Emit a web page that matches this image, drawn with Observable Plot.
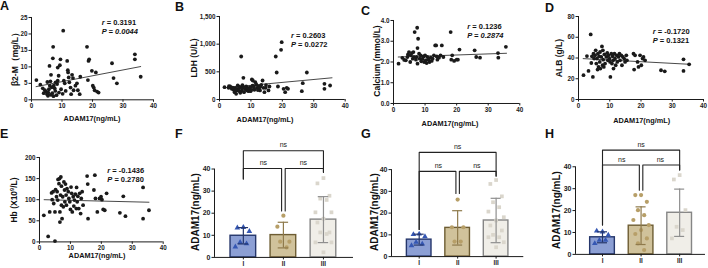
<!DOCTYPE html>
<html><head><meta charset="utf-8">
<script src="https://cdn.jsdelivr.net/npm/d3@7"></script>
<script src="https://cdn.jsdelivr.net/npm/@observablehq/plot@0.6"></script>
<style>
body{margin:0;background:#fff;font-family:"Liberation Sans",Arial,sans-serif;color:#111}
#fig{position:relative;width:708px;height:268px;overflow:hidden;background:#fff}
.letter{position:absolute;font-weight:bold;font-size:12.5px;line-height:1}
.xl{position:absolute;font-weight:bold;font-size:7.3px;white-space:nowrap;transform:translate(-50%,-50%)}
.yl{position:absolute;font-weight:bold;font-size:8.5px;white-space:nowrap;transform:translate(-50%,-50%) rotate(-90deg)}
.yl.big{font-size:10px}
.st{position:absolute;font-weight:bold;font-size:7.5px;line-height:9px;white-space:nowrap}
sup{font-size:5.5px;vertical-align:3px}
</style></head>
<body><div id="fig"></div>
<script>
// ---------- Data ----------
const xTicks = [0, 10, 20, 30, 40];

// A: beta2-M vs ADAM17
const aX = [1.6,2.9,3.7,4.4,4.8,5.1,5.4,5.7,6.0,6.2,6.4,5.9,7.0,7.1,7.3,7.6,7.8,8.2,8.4,8.6,8.9,8.6,9.3,9.5,9.7,10.4,10.6,10.9,11.2,11.7,11.9,12.0,12.2,12.4,12.8,13.0,13.3,13.6,13.8,14.4,14.9,15.2,15.8,16.0,18.2,18.5,18.7,18.9,19.8,20.1,20.4,20.7,21.1,21.5,22.0,26.4,26.9,28.0,33.9,33.9,35.8,5.5,6.3,6.8,7.2,6.6,5.2,4.0,7.9,9.0,10.2];
const aY = [6.0,4.6,3.5,2.9,2.5,1.7,1.2,3.2,4.3,5.6,7.6,10.3,12.6,16.1,4.3,3.5,2.7,1.4,4.8,5.8,7.3,9.8,10.5,12.3,3.2,21.0,5.8,5.0,2.7,11.8,9.0,8.3,6.8,5.3,3.7,1.7,7.6,6.6,2.9,4.3,5.0,2.9,1.7,7.0,16.1,6.0,11.8,12.3,8.8,4.3,3.7,2.9,8.3,2.5,2.2,11.1,6.6,5.0,13.8,12.3,7.0,2.2,1.5,2.0,1.1,3.8,5.4,2.0,5.3,2.2,1.8];
const aFitX = [1.5, 35.8], aFitY = [4.0, 10.1];
const aYTicks = [0, 5, 10, 15, 20, 25];

// B: LDH vs ADAM17
const bX = [1.6,2.9,3.4,3.9,4.5,4.8,5.0,5.3,5.5,5.8,6.0,6.4,6.7,6.9,7.1,7.4,7.6,7.8,8.2,8.5,8.7,9.0,9.2,9.8,10.1,10.3,10.6,10.9,11.1,11.4,11.7,12.0,12.4,12.6,12.9,13.3,13.7,14.0,14.3,14.7,15.6,15.9,17.9,18.2,18.6,19.6,19.8,20.4,20.9,21.4,21.8,26.2,26.5,27.8,33.4,33.4,35.2,3.0,4.2,5.2,6.2,6.6,7.3,8.0,9.5,10.5,12.2,13.0,14.8,11.0,9.9];
const bY = [223,211,235,193,175,133,211,102,163,253,193,151,223,777,163,211,392,133,187,235,163,211,151,223,175,361,343,235,175,313,271,211,235,193,163,265,343,211,133,211,163,235,777,488,235,898,1036,193,133,211,193,151,295,488,283,193,253,240,215,180,230,120,260,220,190,250,170,230,260,200,150];
const bFitX = [1.5, 35.8], bFitY = [211, 392];
const bYTicks = [0, 500, 1000, 1500];

// C: Calcium vs ADAM17
const cX = [1.6,2.8,3.4,3.9,4.4,4.6,4.9,5.3,5.5,5.8,6.1,6.3,6.5,6.7,7.1,7.3,7.5,7.6,7.6,7.8,8.1,8.3,8.6,8.8,9.2,9.5,9.7,10.0,10.2,10.5,10.7,11.1,11.4,11.8,12.1,12.4,12.8,13.2,13.5,13.7,13.9,14.4,14.9,15.3,15.8,18.1,18.3,18.6,19.2,20.0,20.4,20.9,25.7,26.2,27.4,33.1,33.2,35.6];
const cY = [1.92,2.2,2.1,2.08,2.24,2.37,2.48,2.0,2.32,2.43,2.16,2.48,2.24,3.44,2.11,2.24,3.65,2.67,1.92,3.12,2.4,2.16,2.32,2.03,2.16,2.27,2.0,2.32,2.08,1.95,2.24,2.11,2.0,2.21,2.05,2.16,2.32,2.8,2.8,2.27,2.11,2.21,2.32,2.8,2.24,3.44,2.11,2.32,2.05,2.11,2.11,2.6,2.56,2.24,2.21,2.43,2.21,2.73];
const cFitX = [1.5, 35.8], cFitY = [2.24, 2.42];
const cYTicks = [0, 1, 2, 3, 4];

// D: ALB vs ADAM17
const dX = [1.6,2.7,3.2,3.9,4.1,4.3,4.6,4.8,5.0,5.3,5.5,5.7,5.9,6.1,6.2,6.4,6.6,6.8,6.9,7.0,7.3,7.5,7.7,7.8,7.9,8.1,8.3,8.5,8.9,9.2,9.4,9.6,9.9,10.1,10.2,10.5,10.7,10.9,11.1,11.2,11.5,11.7,11.9,12.2,12.4,12.8,13.1,13.3,13.7,13.9,14.2,14.6,14.9,15.3,15.5,17.6,17.8,18.1,18.9,19.2,19.7,20.1,20.5,20.8,21.3,26.4,27.6,33.6,33.6,35.4];
const dY = [23.4,41.9,27.5,62.7,35.2,41.6,21.8,44.2,39.4,42.6,47.4,34.6,39.4,28.8,44.2,31.4,41.6,36.2,45.8,29.8,41.0,51.2,33.0,47.4,38.4,31.4,43.5,34.6,41.0,44.8,37.8,42.6,39.4,36.2,21.8,44.2,34.6,41.6,37.8,29.8,44.2,39.4,33.0,42.6,36.2,41.0,44.2,37.8,42.6,33.0,41.0,39.4,36.2,42.6,37.8,44.2,28.8,42.6,36.2,31.4,42.6,33.0,39.4,41.0,37.8,28.2,27.2,38.7,27.5,33.9];
const dFitX = [1.5, 35.8], dFitY = [39.4, 33.9];
const dYTicks = [0, 20, 40, 60, 80];

// E: Hb vs ADAM17
const eX = [1.4,2.8,3.3,3.9,4.1,4.4,4.6,5.0,5.0,5.2,5.5,5.7,5.9,6.0,6.3,6.5,6.6,6.6,6.8,6.9,7.1,7.1,7.3,7.5,7.7,7.9,8.1,8.2,8.4,8.6,8.7,8.9,9.3,9.5,9.8,10.0,10.2,10.4,10.6,10.9,11.1,11.3,11.6,11.9,12.0,12.2,12.4,12.7,13.0,13.3,13.5,13.8,14.1,15.4,15.6,15.7,17.6,17.9,18.1,18.7,19.4,19.9,20.2,20.6,21.1,21.7,26.0,27.1,27.8,33.5,33.5,35.4];
const eY = [63,13,71,116,100,119,91,71,2,124,107,119,99,148,138,150,71,47,111,154,132,87,55,107,83,142,123,95,137,111,87,126,119,103,95,77,130,115,71,107,85,99,113,79,129,95,108,79,115,67,103,119,87,156,137,55,123,158,103,71,103,107,100,77,75,115,69,108,61,129,55,75];
const eFitX = [1.5, 35.4], eFitY = [100, 94];
const eYTicks = [0, 50, 100, 150, 200];

// Bar panels (F, G, H): groups I, II, III
const groups = ["I", "II", "III"];
const fI = [13.6,13.4,11.8,6.8,6.2,4.8];
const fII = [18.9,13.9,7.1,7.1,4.5];
const fIII = [35.9,33.5,27.9,26.6,26.0,20.4,20.4,17.5,15.8,11.3,11.3,10.6,6.8,6.8,2.3];
const fMean = [9.8, 10.1, 17.1];
const fSD = [3.7, 5.8, 10.4];
const fBracket = [48.3, 40.2];         // heights of top and lower brackets
const fLegs = [35.5, 21, 38.5];        // lower ends of bracket legs at I, II, III

const gI = [10.4,10.2,9.2,6.6,5.8,5.1];
const gII = [26.2,13.5,13.5,6.9,6.9];
const gIII = [35.2,33.4,27.7,25.0,22.7,20.7,18.1,16.6,14.3,12.0,10.0,8.9,8.9,6.6,4.3];
const gMean = [7.8, 13.2, 16.6];
const gSD = [2.5, 7.9, 10.2];
const gBracket = [47.9, 39.2];
const gLegs = [12.5, 29, 37];

const hI = [10.3,10.7,8.8,6.5,6.5,5.0];
const hII = [27.1,27.1,24.0,20.2,17.9,15.7,13.4,11.1,9.3,7.3,5.0,2.0];
const hIII = [36.2,34.2,20.2,12.6,11.1,7.3];
const hMean = [7.8, 13.1, 19.0];
const hSD = [2.5, 8.6, 10.8];
const hBracket = [47.6, 40.8];
const hLegs = [13.4, 29.3, 38.5];

// ---------- Rendering ----------
const fig = document.getElementById("fig");
const FONT = "'Liberation Sans', Arial, sans-serif";
const INK = "#1a1a1a";

function place(svg, left, top) {
  svg.style.position = "absolute";
  svg.style.left = left + "px";
  svg.style.top = top + "px";
  fig.appendChild(svg);
}
function html(cls, left, top, content) {
  const d = document.createElement("div");
  d.className = cls;
  d.style.left = left + "px";
  d.style.top = top + "px";
  d.innerHTML = content;
  fig.appendChild(d);
}
const style = fs => ({fontFamily: FONT, fontSize: fs, fontWeight: "bold", color: INK, background: "transparent", overflow: "visible"});

function scatter({xs, ys, fitX, fitY, yTicks, box}) {
  const mL = 22, mR = 6, mT = 6, mB = 14;
  const width = box.x1 - box.x0 + mL + mR;
  const height = box.y0 - box.y1 + mT + mB;
  const idx = d3.range(xs.length);
  const svg = Plot.plot({
    width, height, marginLeft: mL, marginRight: mR, marginTop: mT, marginBottom: mB,
    x: {domain: [0, 40], label: null},
    y: {domain: [0, yTicks[yTicks.length - 1]], label: null},
    style: style("6.3px"),
    marks: [
      Plot.ruleY([0], {stroke: INK, strokeWidth: 1}),
      Plot.ruleX([0], {stroke: INK, strokeWidth: 1}),
      Plot.axisX({ticks: xTicks, tickSize: 2.5, tickPadding: 1.5, stroke: INK, fill: INK}),
      Plot.axisY({ticks: yTicks, tickSize: 2.5, tickPadding: 1.5, stroke: INK, fill: INK}),
      Plot.dot(idx, {x: i => xs[i], y: i => ys[i], r: 1.9, fill: INK, stroke: null}),
      Plot.line(d3.range(fitX.length), {x: i => fitX[i], y: i => fitY[i], stroke: INK, strokeWidth: 0.8})
    ]
  });
  place(svg, box.x0 - mL, box.y1 - mT);
}

const barColors = {
  fill: ["#8c9fd4", "#d0c29b", "#f0eee8"],
  stroke: ["#25366b", "#6e5d33", "#858585"],
  err: ["#25366b", "#8f7a4c", "#8f8f8f"],
  dot: ["#3557b3", "#b79f68", "#dad6cc"],
  symbol: ["triangle", "circle", "square"]
};
const jitter = [0, -0.15, 0.15, -0.08, 0.08, -0.2, 0.2];

function bars({vals, means, sds, bracket, legs, box, dom}) {
  const ppu = (box.y0 - box.y40) / 40;
  const yTop = 52;
  const mL = 22, mR = 6, mT = 10, mB = 14;
  const plotW = box.xEnd - box.xAxis;
  const plotH = yTop * ppu;
  const stats = groups.map((g, i) => ({pos: i + 1, mean: means[i], sd: sds[i], i}));
  const pts = [];
  vals.forEach((arr, gi) => arr.forEach((v, k) => pts.push({gi, pos: gi + 1 + jitter[k % jitter.length], v})));
  const hw = 0.32, cap = 0.13, off = 0.045;
  const paths = [
    {id: 0, p: [[1, legs[0]], [1, bracket[0]], [3, bracket[0]], [3, legs[2]]]},
    {id: 1, p: [[1, legs[0]], [1, bracket[1]], [2 - off, bracket[1]], [2 - off, legs[1]]]},
    {id: 2, p: [[2 + off, legs[1]], [2 + off, bracket[1]], [3, bracket[1]], [3, legs[2]]]}
  ].flatMap(b => b.p.map(([x, y]) => ({id: b.id, x, y})));
  const ns = [{x: 2, y: bracket[0]}, {x: 1.5, y: bracket[1]}, {x: 2.5, y: bracket[1]}];
  const svg = Plot.plot({
    width: plotW + mL + mR, height: plotH + mT + mB,
    marginLeft: mL, marginRight: mR, marginTop: mT, marginBottom: mB,
    x: {domain: dom, label: null},
    y: {domain: [0, yTop], label: null},
    style: style("7px"),
    marks: [
      Plot.rectY(stats, {x1: d => d.pos - hw, x2: d => d.pos + hw, y1: 0, y2: "mean",
        fill: d => barColors.fill[d.i], stroke: d => barColors.stroke[d.i], strokeWidth: 1.4}),
      ...[0, 1, 2].map(gi => Plot.dot(pts.filter(p => p.gi === gi), {x: "pos", y: "v", r: 2.1,
        symbol: barColors.symbol[gi], fill: barColors.dot[gi], stroke: null})),
      Plot.ruleX(stats, {x: "pos", y1: d => d.mean - d.sd, y2: d => d.mean + d.sd, stroke: d => barColors.err[d.i], strokeWidth: 1.2}),
      Plot.ruleY(stats, {y: d => d.mean + d.sd, x1: d => d.pos - cap, x2: d => d.pos + cap, stroke: d => barColors.err[d.i], strokeWidth: 1.2}),
      Plot.ruleY(stats, {y: d => d.mean - d.sd, x1: d => d.pos - cap, x2: d => d.pos + cap, stroke: d => barColors.err[d.i], strokeWidth: 1.2}),
      Plot.line(paths, {x: "x", y: "y", z: "id", stroke: "#222", strokeWidth: 1.1}),
      Plot.text(ns, {x: "x", y: "y", text: () => "ns", dy: -5.5, fontSize: 7, fontWeight: "normal", fill: "#222"}),
      Plot.ruleY([0], {stroke: INK, strokeWidth: 1}),
      Plot.ruleX([dom[0]], {y1: 0, y2: 40, stroke: INK, strokeWidth: 1}),
      Plot.axisX({ticks: [1, 2, 3], tickFormat: d => groups[d - 1], tickSize: 2.5, tickPadding: 1.5, stroke: INK, fill: INK, fontSize: 6.3}),
      Plot.axisY({ticks: [0, 10, 20, 30, 40], tickSize: 2.5, tickPadding: 1.5, stroke: INK, fill: INK})
    ]
  });
  place(svg, box.xAxis - mL, box.y0 - plotH - mT);
}

// Scatter panels
scatter({xs: aX, ys: aY, fitX: aFitX, fitY: aFitY, yTicks: aYTicks, box: {x0: 31, x1: 153, y0: 99, y1: 16.7}});
scatter({xs: bX, ys: bY, fitX: bFitX, fitY: bFitY, yTicks: bYTicks, box: {x0: 219.3, x1: 345, y0: 99, y1: 16}});
scatter({xs: cX, ys: cY, fitX: cFitX, fitY: cFitY, yTicks: cYTicks, box: {x0: 392.7, x1: 519, y0: 103, y1: 20}});
scatter({xs: dX, ys: dY, fitX: dFitX, fitY: dFitY, yTicks: dYTicks, box: {x0: 578, x1: 703, y0: 99, y1: 16}});
scatter({xs: eX, ys: eY, fitX: eFitX, fitY: eFitY, yTicks: eYTicks, box: {x0: 39, x1: 162.7, y0: 241.7, y1: 157.3}});

// Bar panels
bars({vals: [fI, fII, fIII], means: fMean, sds: fSD, bracket: fBracket, legs: fLegs, box: {xAxis: 214, xEnd: 353, y0: 256.7, y40: 168.3}, dom: [0.28, 3.75]});
bars({vals: [gI, gII, gIII], means: gMean, sds: gSD, bracket: gBracket, legs: gLegs, box: {xAxis: 390.7, xEnd: 523, y0: 256, y40: 169}, dom: [0.28, 3.72]});
bars({vals: [hI, hII, hIII], means: hMean, sds: hSD, bracket: hBracket, legs: hLegs, box: {xAxis: 575, xEnd: 705, y0: 254.3, y40: 166.7}, dom: [0.3, 3.67]});

// Panel letters
html("letter", 0, 0, "A");
html("letter", 175, 1, "B");
html("letter", 361, 5, "C");
html("letter", 545, 2, "D");
html("letter", 0, 128, "E");
html("letter", 175, 128, "F");
html("letter", 361, 128, "G");
html("letter", 545, 128, "H");

// Axis titles
const xLab = "ADAM17(ng/mL)";
html("xl", 92, 118, xLab);
html("xl", 265, 118.5, xLab);
html("xl", 450, 123, xLab);
html("xl", 641.7, 120, xLab);
html("xl", 97, 255, xLab);
html("yl", 15.5, 57, "β2-M（mg/L）");
html("yl", 194, 58, "LDH (U/L)");
html("yl", 377, 61, "Calcium (mmol/L)");
html("yl", 559, 58, "ALB (g/L)");
html("yl", 14, 200, "Hb (X10<sup>9</sup>/L)");
html("yl big", 195, 212, xLab);
html("yl big", 373.5, 212, xLab);
html("yl big", 556, 210, xLab);

// Correlation statistics
html("st", 101.7, 18, "<i>r</i> = 0.3191<br><i>P = 0.0044</i>");
html("st", 291, 30.5, "<i>r</i> = 0.2603<br><i>P</i> = 0.0272");
html("st", 467.3, 22.2, "<i>r</i> = 0.1236<br><i>P = 0.2874</i>");
html("st", 652.7, 27.2, "<i>r</i> = -0.1720<br><i>P</i> = 0.1321");
html("st", 107.3, 166.2, "<i>r</i> = -0.1436<br><i>P</i> = 0.2780");
</script>
</body></html>
